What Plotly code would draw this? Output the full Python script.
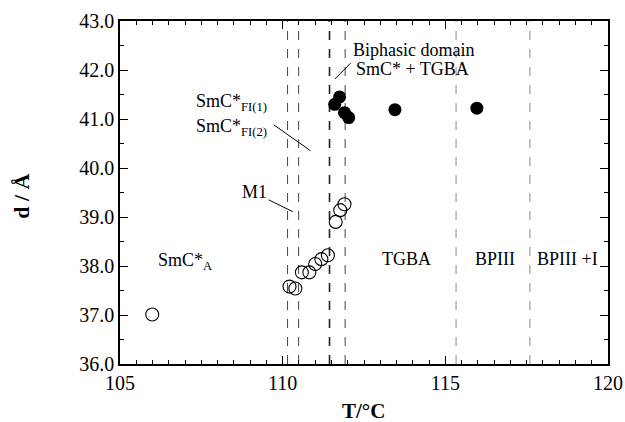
import plotly.graph_objects as go

# Data
T_open = [105.99, 110.21, 110.39, 110.59, 110.82, 111.00, 111.19, 111.39, 111.63, 111.77, 111.90]
d_open = [37.01, 37.58, 37.54, 37.87, 37.87, 38.04, 38.14, 38.22, 38.90, 39.14, 39.26]
T_filled = [111.60, 111.75, 111.90, 112.03, 113.45, 115.97]
d_filled = [41.30, 41.45, 41.13, 41.03, 41.19, 41.22]
boundaries = [110.15, 110.49, 111.44, 111.92, 115.33, 117.60]
boundary_colors = ["#444", "#444", "#222", "#444", "#888", "#888"]
boundary_widths = [1, 1, 1.6, 1, 1, 1]
x_ticks = [105, 110, 115, 120]
y_ticks = [36.0, 37.0, 38.0, 39.0, 40.0, 41.0, 42.0, 43.0]

FONT = "Liberation Serif, Times New Roman, serif"

fig = go.Figure()
fig.add_trace(go.Scatter(x=T_open, y=d_open, mode="markers",
                         marker=dict(symbol="circle-open", size=13, color="black", line=dict(width=1.1)),
                         showlegend=False, hoverinfo="skip"))
fig.add_trace(go.Scatter(x=T_filled, y=d_filled, mode="markers",
                         marker=dict(symbol="circle", size=13, color="black"),
                         showlegend=False, hoverinfo="skip"))

shapes = []
for b, c, w in zip(boundaries, boundary_colors, boundary_widths):
    shapes.append(dict(type="line", xref="x", yref="y", x0=b, x1=b, y0=36, y1=43,
                       line=dict(color=c, width=w, dash="dash"), layer="below"))
# pointer lines
shapes.append(dict(type="line", xref="x", yref="y", x0=111.61, y0=41.82, x1=112.09, y1=42.14,
                   line=dict(color="black", width=1)))
shapes.append(dict(type="line", xref="x", yref="y", x0=109.73, y0=40.88, x1=110.86, y1=40.35,
                   line=dict(color="black", width=1)))
shapes.append(dict(type="line", xref="x", yref="y", x0=109.57, y0=39.35, x1=110.31, y1=39.11,
                   line=dict(color="black", width=1)))
fig.update_layout(shapes=shapes)

def ann(x, y, text, size=18, anchor="left"):
    fig.add_annotation(x=x, y=y, xref="x", yref="y", text=text, showarrow=False,
                       xanchor=anchor, yanchor="middle", font=dict(family=FONT, size=size, color="black"))

ann(112.10, 42.41, "Biphasic domain")
ann(112.20, 42.02, "SmC* + TGBA")
ann(107.28, 41.33, "SmC*<sub>FI(1)</sub>")
ann(107.28, 40.83, "SmC*<sub>FI(2)</sub>")
ann(108.70, 39.52, "M1")
ann(106.10, 38.10, "SmC*<sub>A</sub>")
ann(113.81, 38.14, "TGBA", anchor="center")
ann(116.54, 38.14, "BPIII", anchor="center")
ann(118.76, 38.14, "BPIII +I", anchor="center")

# axis titles
fig.add_annotation(x=-0.201, y=0.49, xref="paper", yref="paper", text="<b>d / Å</b>", textangle=-90,
                   showarrow=False, xanchor="center", yanchor="middle",
                   font=dict(family=FONT, size=22, color="black"))
fig.add_annotation(x=0.498, y=-0.137, xref="paper", yref="paper", text="<b>T/°C</b>",
                   showarrow=False, xanchor="center", yanchor="middle",
                   font=dict(family=FONT, size=21, color="black"))

axis_common = dict(showline=True, linecolor="black", linewidth=1.5, mirror="ticks",
                   ticks="inside", ticklen=8, tickwidth=1.2, tickcolor="black",
                   showgrid=False, zeroline=False, automargin=False,
                   tickfont=dict(family=FONT, size=20, color="black"))

fig.update_xaxes(range=[105, 120], tickvals=x_ticks, ticktext=[str(v) for v in x_ticks],
                 minor=dict(dtick=0.5, ticks="inside", ticklen=4, tickcolor="black", tickwidth=1),
                 **axis_common)
fig.update_yaxes(range=[36, 43], tickvals=y_ticks, ticktext=[f"{v:.1f}" for v in y_ticks],
                 minor=dict(dtick=0.5, ticks="inside", ticklen=4, tickcolor="black", tickwidth=1),
                 **axis_common)

fig.update_layout(width=625, height=422, margin=dict(l=120, r=17, t=21, b=58),
                  plot_bgcolor="white", paper_bgcolor="white", hovermode=False)

fig.write_html("out.html", config={"displayModeBar": False},
               post_script="document.body.style.margin='0';document.body.style.overflow='hidden';")
